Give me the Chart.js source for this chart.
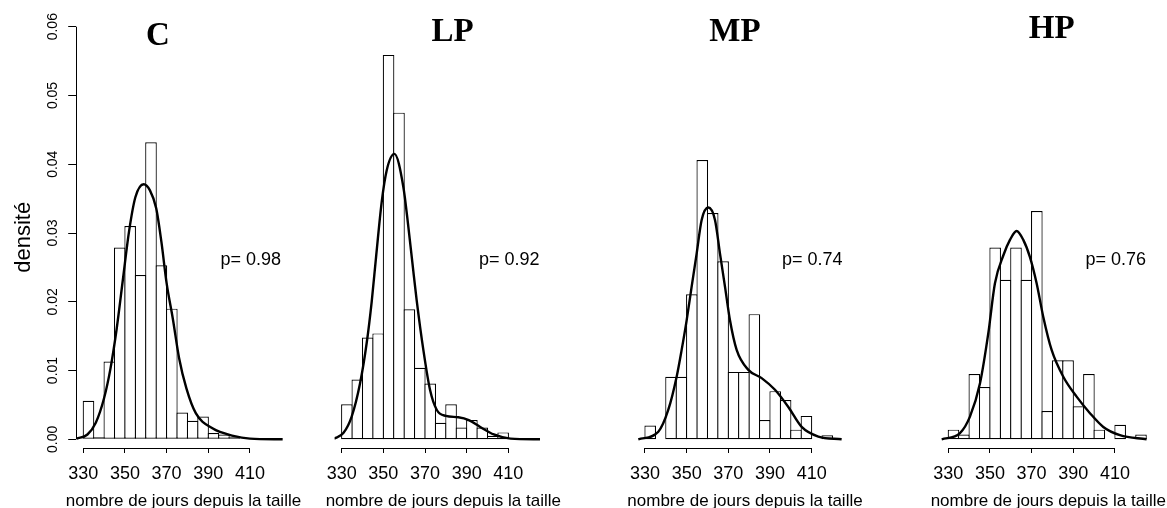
<!DOCTYPE html>
<html>
<head>
<meta charset="utf-8">
<script src="https://cdn.jsdelivr.net/npm/chart.js@4.4.1/dist/chart.umd.min.js"></script>
<style>
  body { margin: 0; background: #fff; width: 1167px; height: 508px; overflow: hidden; position: relative;
         font-family: "Liberation Sans", Arial, sans-serif; color: #000; }
  canvas { position: absolute; top: 0; }
  .ttl { position: absolute; width: 120px; text-align: center; font: bold 33px/33px "Liberation Serif", "Times New Roman", serif; }
  .pv { position: absolute; font-size: 18px; line-height: 18px; white-space: nowrap; }
  .xl { position: absolute; width: 300px; text-align: center; font-size: 17px; line-height: 17px; white-space: nowrap; }
</style>
</head>
<body>
<script>
// histogram bins (left edges, width 5 days)
const binStarts = [330, 335, 340, 345, 350, 355, 360, 365, 370, 375, 380, 385, 390, 395, 400, 405, 410, 415, 420];
const binWidth = 5;

// bar densities
const densC  = [0.0056, 0.0003, 0.0113, 0.0279, 0.0310, 0.0239, 0.0432, 0.0253, 0.0190, 0.0039, 0.0027, 0.0033, 0.0009, 0.0007, 0.0003, 0, 0, 0, 0];
const densLP = [0.0051, 0.0087, 0.0148, 0.0154, 0.0559, 0.0475, 0.0189, 0.0104, 0.0081, 0.0024, 0.0051, 0.0017, 0.0028, 0.0017, 0.0005, 0.0010, 0, 0, 0];
const densMP = [0.0020, 0, 0.0091, 0.0091, 0.0211, 0.0406, 0.0329, 0.0259, 0.0098, 0.0098, 0.0182, 0.0028, 0.0070, 0.0057, 0.0014, 0.0034, 0, 0.0006, 0];
const densHP = [0.0014, 0.0007, 0.0095, 0.0076, 0.0279, 0.0232, 0.0279, 0.0232, 0.0332, 0.0041, 0.0115, 0.0115, 0.0048, 0.0095, 0.0014, 0, 0.0021, 0, 0.0007];

// density curves, points
const curveCx  = [326.8, 332, 336, 340, 343, 346, 349, 352, 355, 359, 362, 365, 367.5, 370, 373, 376, 379.5, 384, 392, 402, 410, 425.7];
const curveCy  = [0.0001, 0.0007, 0.0024, 0.0060, 0.0102, 0.0160, 0.0232, 0.0303, 0.0352, 0.0371, 0.0362, 0.0336, 0.0287, 0.0227, 0.0175, 0.0118, 0.0074, 0.0038, 0.0016, 0.0005, 0.0001, 0];
const curveLPx = [326.3, 330.8, 334.8, 338.8, 342, 344.4, 346.5, 349.2, 351.6, 355.3, 359.6, 362, 364, 366, 369.2, 372.4, 375.6, 380, 386, 391, 396.5, 403, 411, 425.2];
const curveLPy = [0.0001, 0.0009, 0.0033, 0.0081, 0.0140, 0.0200, 0.0265, 0.0345, 0.0391, 0.0415, 0.0367, 0.0309, 0.0255, 0.0202, 0.0130, 0.0072, 0.0043, 0.0034, 0.0032, 0.0028, 0.0018, 0.0007, 0.0001, 0];
const curveMPx = [326.8, 336.4, 341.2, 345.2, 347.6, 350, 352.4, 354.8, 357.2, 360.4, 363.6, 366, 368.4, 370.8, 374, 379.6, 386, 392.4, 398.8, 405.2, 413.2, 424.4];
const curveMPy = [0, 0.0011, 0.0043, 0.0091, 0.0130, 0.0173, 0.0222, 0.0270, 0.0319, 0.0337, 0.0319, 0.0270, 0.0222, 0.0173, 0.0130, 0.0101, 0.0089, 0.0072, 0.0047, 0.0018, 0.0004, 0];
const curveHPx = [326.8, 335.6, 340.4, 345.2, 349.2, 352.4, 356.5, 359.6, 362.8, 366, 369.2, 372.4, 375.6, 379.6, 385.2, 391.6, 398, 404.4, 412.4, 425.2];
const curveHPy = [0, 0.0009, 0.0033, 0.0081, 0.0154, 0.0227, 0.0268, 0.0290, 0.0303, 0.0290, 0.0265, 0.0227, 0.0178, 0.0130, 0.0091, 0.0062, 0.0038, 0.0018, 0.0006, 0];

// texts and ticks
const panelNames = ['C', 'LP', 'MP', 'HP'];
const pValues = ['0.98', '0.92', '0.74', '0.76'];
const xTicks = [330, 350, 370, 390, 410];
const yTicks = [0, 0.01, 0.02, 0.03, 0.04, 0.05, 0.06];
const xTitle = 'nombre de jours depuis la taille';
const yTitle = 'densité';

// page layout (pixels)
const H = 508, areaTop = 26.7, areaBottom = 448;
const xMin = 326.6, xMax = 428.6, yMin = -0.001265, yMax = 0.06;
const barLine = 1.2;
const panels = [
  { left: 0,   width: 292, areaLeft: 76.2,  areaRight: 288.7,  titleX: 157.8,  titleTop: 18.4, pX: 220.5,  xlabX: 183.5 },
  { left: 300, width: 252, areaLeft: 334.6, areaRight: 547.1,  titleX: 452.7,  titleTop: 14.1, pX: 479,    xlabX: 443.3 },
  { left: 600, width: 255, areaLeft: 637.9, areaRight: 850.4,  titleX: 735,    titleTop: 14.1, pX: 782,    xlabX: 745 },
  { left: 905, width: 255, areaLeft: 941.2, areaRight: 1153.7, titleX: 1051.7, titleTop: 10.7, pX: 1085.5, xlabX: 1048.3 }
];
const series = [[densC, curveCx, curveCy], [densLP, curveLPx, curveLPy], [densMP, curveMPx, curveMPy], [densHP, curveHPx, curveHPy]];

Chart.defaults.font.family = '"Liberation Sans", Arial, sans-serif';
Chart.defaults.color = '#000';

// R style axes: line only from first to last tick
const rAxes = {
  id: 'rAxes',
  afterDraw(chart, args, opts) {
    const { ctx, chartArea } = chart;
    const xs = chart.scales.x, ys = chart.scales.y;
    ctx.save();
    ctx.strokeStyle = '#000';
    ctx.lineWidth = 1;
    ctx.beginPath();
    const yb = Math.round(chartArea.bottom) + 0.5;
    ctx.moveTo(xs.getPixelForValue(xTicks[0]), yb);
    ctx.lineTo(xs.getPixelForValue(xTicks[xTicks.length - 1]), yb);
    if (opts.yAxis) {
      const xl = Math.round(chartArea.left - 0.5) + 0.5;
      ctx.moveTo(xl, ys.getPixelForValue(yTicks[0]));
      ctx.lineTo(xl, ys.getPixelForValue(yTicks[yTicks.length - 1]));
    }
    ctx.stroke();
    ctx.restore();
  }
};

function addDiv(cls, text, left, top) {
  const d = document.createElement('div');
  d.className = cls;
  d.textContent = text;
  d.style.left = left + 'px';
  d.style.top = top + 'px';
  document.body.appendChild(d);
}

panels.forEach(function(p, i) {
  const canvas = document.createElement('canvas');
  canvas.width = p.width;
  canvas.height = H;
  canvas.style.left = p.left + 'px';
  canvas.style.width = p.width + 'px';
  canvas.style.height = H + 'px';
  document.body.appendChild(canvas);

  const showY = i === 0;
  const [dens, cx, cy] = series[i];
  // one bin in pixels, so that neighbouring bars share a single border line
  const binPx = binWidth * (p.areaRight - p.areaLeft) / (xMax - xMin);

  new Chart(canvas, {
    type: 'bar',
    data: {
      datasets: [
        {
          type: 'line',
          data: cx.map((x, k) => ({ x: x, y: cy[k] })),
          borderColor: '#000',
          borderWidth: 2.4,
          pointRadius: 0,
          cubicInterpolationMode: 'monotone',
          fill: false,
          order: 0
        },
        {
          type: 'bar',
          data: binStarts.map((b, k) => ({ x: b + binWidth / 2, y: dens[k] })),
          backgroundColor: '#fff',
          borderColor: '#000',
          borderWidth: barLine,
          borderSkipped: false,
          inflateAmount: 0,
          categoryPercentage: 1,
          barPercentage: 1 + barLine / binPx,
          order: 1
        }
      ]
    },
    options: {
      responsive: false,
      animation: false,
      events: [],
      layout: {
        padding: {
          left: showY ? 0 : p.areaLeft - p.left,
          right: p.left + p.width - p.areaRight,
          top: areaTop,
          bottom: 0
        }
      },
      plugins: {
        legend: { display: false },
        tooltip: { enabled: false },
        rAxes: { yAxis: showY }
      },
      scales: {
        x: {
          type: 'linear',
          min: xMin,
          max: xMax,
          offset: false,
          afterBuildTicks: s => { s.ticks = xTicks.map(v => ({ value: v })); },
          afterFit: s => { s.height = H - areaBottom; },
          grid: { offset: false, drawOnChartArea: false, drawTicks: true, tickLength: 5, color: '#000', lineWidth: 1 },
          border: { display: false },
          ticks: { autoSkip: false, maxRotation: 0, padding: 10, font: { size: 18 }, color: '#000', callback: v => String(v) }
        },
        y: {
          type: 'linear',
          display: showY,
          min: yMin,
          max: yMax,
          afterBuildTicks: s => { s.ticks = yTicks.map(v => ({ value: v })); },
          afterFit: s => { if (showY) s.width = p.areaLeft - p.left; },
          grid: { drawOnChartArea: false, drawTicks: true, tickLength: 8, color: '#000', lineWidth: 1 },
          border: { display: false },
          ticks: { autoSkip: false, minRotation: 90, maxRotation: 90, crossAlign: 'center', padding: 1,
                   font: { size: 14 }, color: '#000', callback: v => v.toFixed(2) },
          title: { display: true, text: yTitle, font: { size: 22 }, color: '#000', padding: { top: 10.8, bottom: 0 } }
        }
      }
    },
    plugins: [rAxes]
  });

  addDiv('ttl', panelNames[i], p.titleX - 60, p.titleTop);
  addDiv('pv', 'p= ' + pValues[i], p.pX, 249.8);
  addDiv('xl', xTitle, p.xlabX - 150, 491.6);
});
</script>
</body>
</html>
